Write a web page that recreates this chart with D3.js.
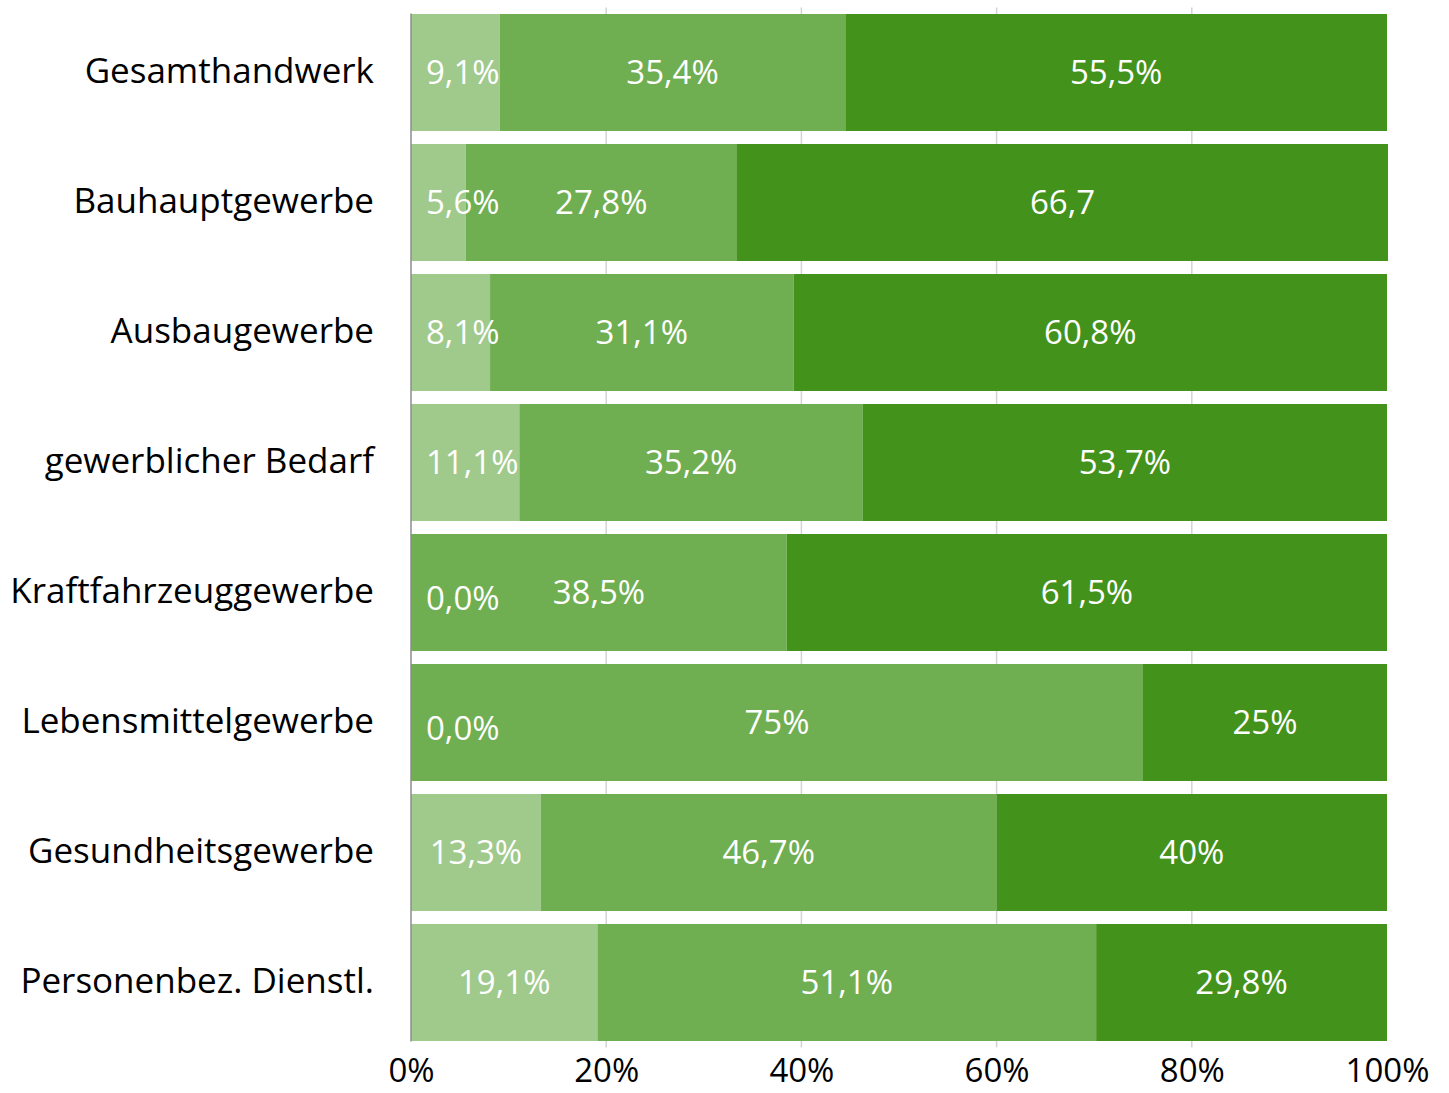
<!DOCTYPE html>
<html>
<head>
<meta charset="utf-8">
<script src="https://cdn.jsdelivr.net/npm/d3@7"></script>
<style>
  html, body { margin: 0; padding: 0; background: #ffffff; }
  svg { display: block; }
  text { font-family: "Open Sans", "Noto Sans", sans-serif; }
</style>
</head>
<body>
<svg id="chart" width="1449" height="1093"></svg>
<script>
// Trade groups (rows, top to bottom)
const categories = [
  "Gesamthandwerk",
  "Bauhauptgewerbe",
  "Ausbaugewerbe",
  "gewerblicher Bedarf",
  "Kraftfahrzeuggewerbe",
  "Lebensmittelgewerbe",
  "Gesundheitsgewerbe",
  "Personenbez. Dienstl."
];

// Shares per row in percent, one array per stacked segment
const seriesLight = [9.1, 5.6, 8.1, 11.1, 0.0, 0.0, 13.3, 19.1];
const seriesMid   = [35.4, 27.8, 31.1, 35.2, 38.5, 75.0, 46.7, 51.1];
const seriesDark  = [55.5, 66.7, 60.8, 53.7, 61.5, 25.0, 40.0, 29.8];

// Segment labels as printed
const labelsLight = ["9,1%", "5,6%", "8,1%", "11,1%", "0,0%", "0,0%", "13,3%", "19,1%"];
const labelsMid   = ["35,4%", "27,8%", "31,1%", "35,2%", "38,5%", "75%", "46,7%", "51,1%"];
const labelsDark  = ["55,5%", "66,7", "60,8%", "53,7%", "61,5%", "25%", "40%", "29,8%"];

// Axis ticks
const tickValues = [0, 20, 40, 60, 80, 100];
const tickLabels = ["0%", "20%", "40%", "60%", "80%", "100%"];

const seriesColors = ["#a0c98c", "#70ae52", "#43921b"];

const svg = d3.select("#chart");

const x = d3.scaleLinear().domain([0, 100]).range([411, 1387]);
const y = d3.scaleBand().domain(categories).range([7.5, 1047.5])
  .paddingInner(0.1).paddingOuter(0.05);

// Build stacked table
const rows = categories.map((c, i) => ({
  cat: c,
  light: seriesLight[i], mid: seriesMid[i], dark: seriesDark[i],
  labels: { light: labelsLight[i], mid: labelsMid[i], dark: labelsDark[i] }
}));
const keys = ["light", "mid", "dark"];
const stacked = d3.stack().keys(keys)(rows);

// Vertical gridlines
svg.append("g")
  .selectAll("line")
  .data(tickValues.filter(v => v > 0 && v < 100))
  .join("line")
  .attr("x1", d => x(d)).attr("x2", d => x(d))
  .attr("y1", y.range()[0]).attr("y2", y.range()[1])
  .attr("stroke", "#d3d3d3").attr("stroke-width", 1.5);

// Bars
const layer = svg.append("g").selectAll("g")
  .data(stacked)
  .join("g")
  .attr("fill", (d, i) => seriesColors[i]);

layer.selectAll("rect")
  .data(d => d)
  .join("rect")
  .attr("x", d => x(d[0]))
  .attr("width", d => x(d[1]) - x(d[0]))
  .attr("y", d => y(d.data.cat))
  .attr("height", y.bandwidth());

// Segment labels: centred in the segment, or set just inside the
// left edge when the segment is too narrow to hold the text
const labelLayer = svg.append("g")
  .attr("fill", "#ffffff")
  .attr("font-size", 33);

const inset = 15;
stacked.forEach(s => {
  labelLayer.selectAll(null)
    .data(s)
    .join("text")
    .attr("y", d => y(d.data.cat) + y.bandwidth() / 2 + ((d[1] - d[0]) > 0 ? 0 : 6))
    .attr("dy", "0.36em")
    .text(d => d.data.labels[s.key])
    .each(function (d) {
      const w = this.getComputedTextLength();
      const x0 = x(d[0]), x1 = x(d[1]);
      const t = d3.select(this);
      if (x1 - x0 >= w + 2 * inset) {
        t.attr("x", (x0 + x1) / 2).attr("text-anchor", "middle");
      } else {
        t.attr("x", x0 + inset).attr("text-anchor", "start");
      }
    });
});

// Category axis (left)
svg.append("g")
  .selectAll("text")
  .data(categories)
  .join("text")
  .attr("x", 374)
  .attr("y", d => y(d) + y.bandwidth() / 2)
  .attr("dy", "0.3em")
  .attr("text-anchor", "end")
  .attr("font-size", 35)
  .attr("fill", "#000000")
  .text(d => d);

// Baseline of the value axis
svg.append("line")
  .attr("x1", x(0)).attr("x2", x(0))
  .attr("y1", y.range()[0] + 6).attr("y2", y.range()[1] - 6)
  .attr("stroke", "#8c8c8c").attr("stroke-width", 1.5);

// Value axis (bottom)
const xAxis = d3.axisBottom(x)
  .tickValues(tickValues)
  .tickFormat((d, i) => tickLabels[i])
  .tickSize(0)
  .tickPadding(0);

const gx = svg.append("g")
  .attr("transform", "translate(0,1051)")
  .call(xAxis);
gx.select(".domain").remove();
gx.selectAll("text")
  .attr("font-size", 33)
  .attr("font-family", "'Open Sans', 'Noto Sans', sans-serif")
  .attr("fill", "#000000")
  .attr("dy", "0.94em");
</script>
</body>
</html>
